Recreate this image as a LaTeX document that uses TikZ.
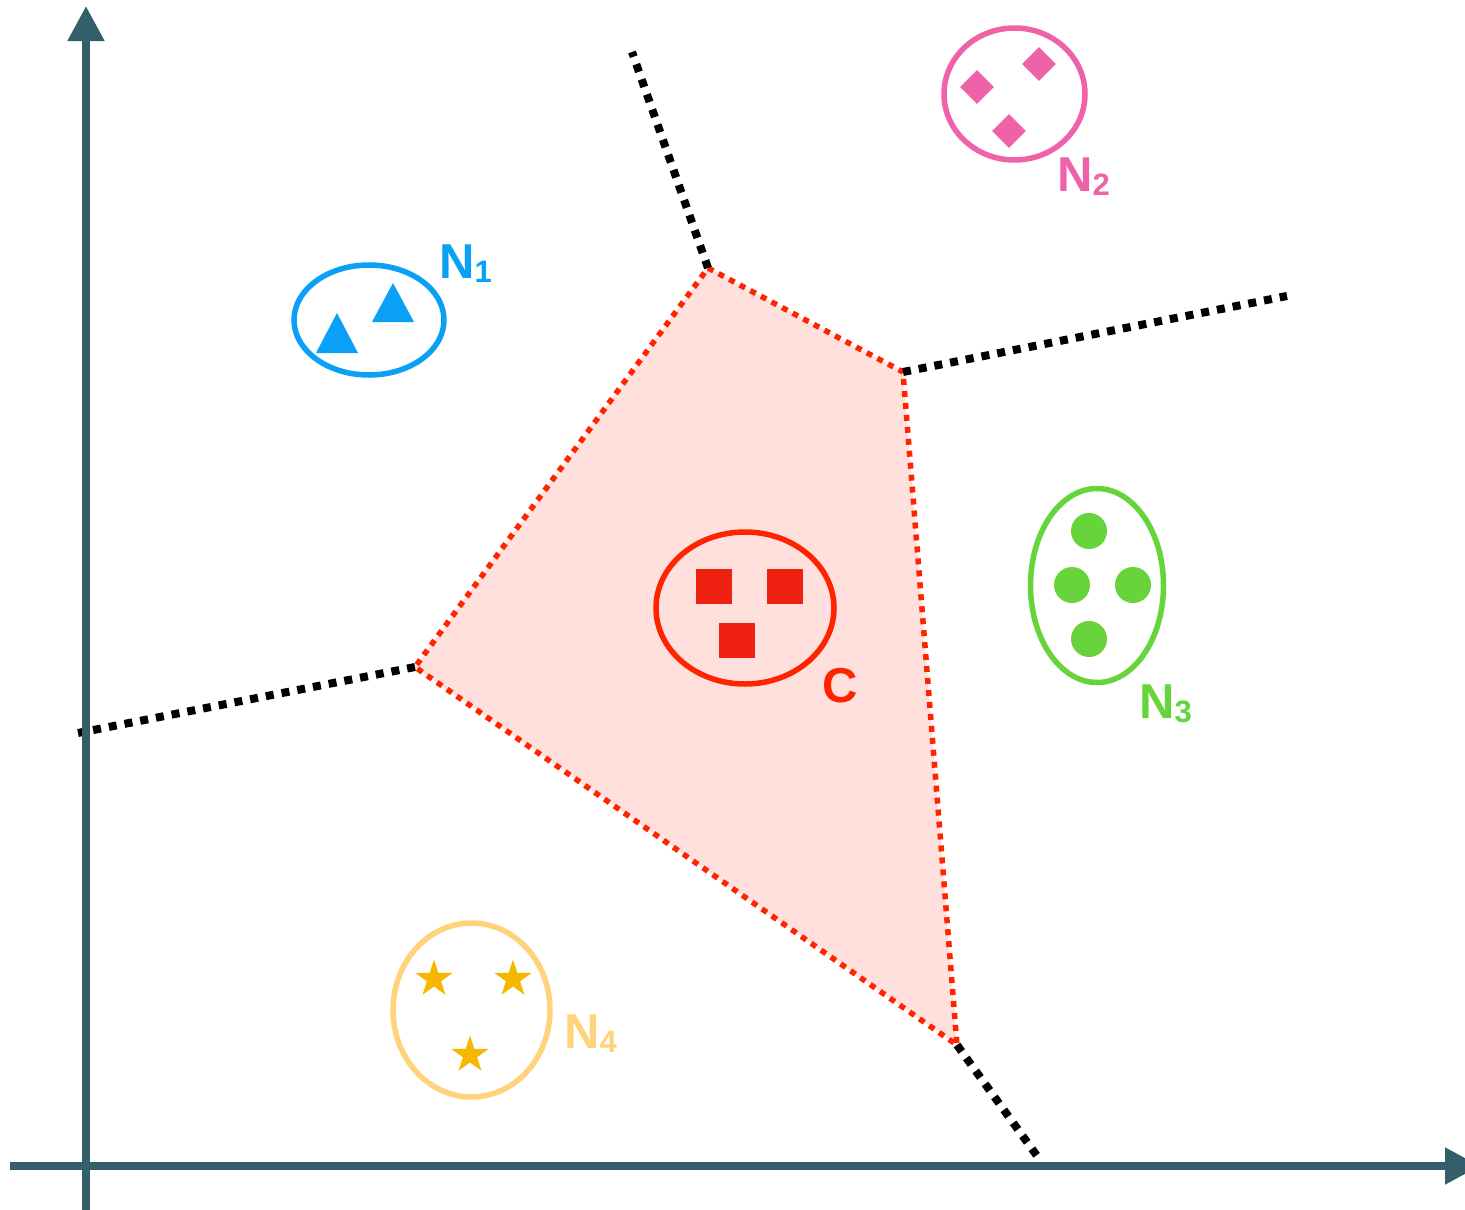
\documentclass[tikz,border=0pt]{standalone}
\usepackage{fontspec}
\setmainfont{Liberation Sans}
\usetikzlibrary{arrows.meta,shapes.geometric}
\definecolor{axiscol}{HTML}{345E69}
\definecolor{bluec}{HTML}{0AA0F6}
\definecolor{pinkc}{HTML}{EF62A8}
\definecolor{redc}{HTML}{FF2400}
\definecolor{sqc}{HTML}{EE2010}
\definecolor{greenc}{HTML}{66D43A}
\definecolor{orangec}{HTML}{FFD37C}
\definecolor{starc}{HTML}{F5B700}
\definecolor{regionfill}{HTML}{FFE0DC}
\newcommand\grplab[2]{{\fontsize{49}{50}\selectfont\bfseries #1}\raisebox{-4pt}{\fontsize{31}{32}\selectfont\bfseries #2}}
\tikzset{
  axisline/.style={draw=axiscol, line width=8pt, -{Triangle[length=35pt,width=35pt]}},
  blackdots/.style={draw=black, line width=8pt, dash pattern=on 8pt off 8pt},
  reddots/.style={draw=redc, line width=5.5pt, dash pattern=on 6pt off 6pt},
  grp/.style={line width=5.5pt},
  lab/.style={anchor=base west, inner sep=0pt},
  starmark/.style={star, star points=5, star point ratio=2.618, minimum size=39pt, inner sep=0pt, fill=starc, draw=none},
  dotmark/.style={circle, minimum size=36pt, inner sep=0pt, fill=greenc, draw=none},
  sqmark/.style={rectangle, minimum width=36pt, minimum height=35pt, inner sep=0pt, fill=sqc, draw=none},
  dmmark/.style={diamond, minimum width=34pt, minimum height=34pt, inner sep=0pt, fill=pinkc, draw=none},
}
\begin{document}
\begin{tikzpicture}[x=1pt,y=-1pt]
\clip (0,0) rectangle (1465,1210);
\fill[white] (0,0) rectangle (1465,1210);
% Voronoi vertices
\coordinate (va) at (708,268);
\coordinate (vb) at (903,372);
\coordinate (vc) at (957,1045);
\coordinate (vd) at (415,667);
\coordinate (ea) at (632,52);
\coordinate (eb) at (1287,296);
\coordinate (ec) at (1040,1160);
\coordinate (ed) at (78,733);
% region
\fill[regionfill] (va) -- (vb) -- (vc) -- (vd) -- cycle;
\draw[reddots] (va) -- (vb) -- (vc) -- (vd) -- cycle;
\draw[blackdots] (va) -- (ea);
\draw[blackdots] (vb) -- (eb);
\draw[blackdots] (vc) -- (ec);
\draw[blackdots] (vd) -- (ed);
% axes
\coordinate (yb) at (86,1210);
\coordinate (yt) at (86,6);
\coordinate (xl) at (10,1166);
\coordinate (xr) at (1480,1166);
\draw[axisline] (yb) -- (yt);
\draw[axisline] (xl) -- (xr);
% N1
\draw[grp, draw=bluec] (369,320) ellipse [x radius=75, y radius=55];
\fill[bluec] (337,313) -- (358,353) -- (316,353) -- cycle;
\fill[bluec] (393,283) -- (414,322) -- (372,322) -- cycle;
\node[lab, text=bluec] (n1) at (439,278) {\grplab{N}{1}};
% N2
\draw[grp, draw=pinkc] (1014.5,94) ellipse [x radius=70.5, y radius=66];
\node[dmmark] (d1) at (977,87) {};
\node[dmmark] (d2) at (1039,64) {};
\node[dmmark] (d3) at (1009,131) {};
\node[lab, text=pinkc] (n2) at (1057,191) {\grplab{N}{2}};
% C
\draw[grp, draw=redc] (745,608) ellipse [x radius=89, y radius=76];
\node[sqmark] (s1) at (714,586.5) {};
\node[sqmark] (s2) at (785,586.5) {};
\node[sqmark] (s3) at (737,640.5) {};
\node[lab, text=redc] (cl) at (822,702) {\fontsize{49}{50}\selectfont\bfseries C};
% N3
\draw[grp, draw=greenc] (1097,585.5) ellipse [x radius=66.5, y radius=97];
\node[dotmark] (g1) at (1089,531) {};
\node[dotmark] (g2) at (1072,585) {};
\node[dotmark] (g3) at (1133,585) {};
\node[dotmark] (g4) at (1089,639) {};
\node[lab, text=greenc] (n3) at (1139,718) {\grplab{N}{3}};
% N4
\draw[grp, draw=orangec] (471.5,1010) ellipse [x radius=78.5, y radius=87];
\node[starmark] (t1) at (434,979) {};
\node[starmark] (t2) at (513,979) {};
\node[starmark] (t3) at (470,1055) {};
\node[lab, text=orangec] (n4) at (564,1048) {\grplab{N}{4}};
\end{tikzpicture}
\end{document}
